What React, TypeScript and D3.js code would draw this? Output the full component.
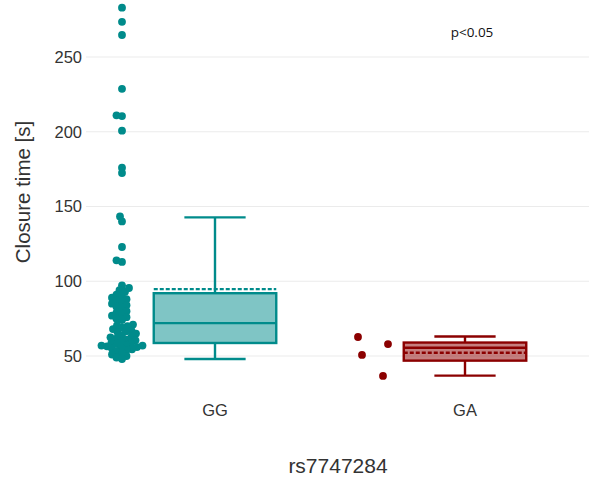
import React from 'react';
import * as d3 from 'd3';

const groups = ["GG", "GA"];
const groupColors = ["#008B8B", "#8B0000"];

// Raw observations, GG genotype
const ggValues = [
  283, 273.5, 264.7, 228.7, 211, 210.5, 200.7, 176, 172.4,
  143.3, 140, 122.9, 114, 112.9,
  97.3, 95.5, 94, 93,
  91, 90, 89, 88, 87, 86, 85, 84, 83, 82, 80, 79, 78, 77, 76, 75, 74,
  71, 70.5, 70, 69, 68, 67, 66.5, 66, 65, 64, 63, 62.5, 62, 61, 60.5, 60, 59,
  58.5, 58, 57.5, 57, 57, 56.5, 56, 55.5, 55, 54.5, 54, 53, 52, 51, 50, 49, 48,
];
// Raw observations, GA genotype
const gaValues = [62.7, 50.7, 58, 36.7];
const gaJitter = [-0.056, -0.04, 0.064, 0.044];

// Box summary per group (GG, GA)
const whiskerLow = [48, 36.9];
const q1 = [58.7, 46.9];
const median = [72, 55.5];
const q3 = [92, 59];
const whiskerHigh = [142.7, 63];
const means = [94.7, 52.2];

const yTicks = [50, 100, 150, 200, 250];
const pLabel = "p<0.05";
const xTitle = "rs7747284";
const yTitle = "Closure time [s]";

export default function App() {
  const W = 589, H = 483;
  const x = d3.scalePoint<string>().domain(groups).range([90, 590]).padding(0.5);
  const step = x.step();
  const y = d3.scaleLinear().domain([50, 250]).range([356, 57]);
  const boxW = step * 0.49;
  const capW = boxW / 2;
  const dotShift = -step * 0.372;
  const r = 3.9;
  const font = "'Liberation Sans', Arial, sans-serif";

  function swarm(values: number[], cx: number, minDist: number) {
    const pts = values.map((v) => ({ v, py: y(v), px: cx }));
    const sorted = [...pts].sort((a, b) => b.py - a.py);
    const placed: { px: number; py: number }[] = [];
    for (const p of sorted) {
      for (let k = 0; k < 400; k++) {
        const off = (k % 2 === 0 ? 1 : -1) * Math.ceil(k / 2) * 0.5;
        const px = cx + off;
        if (placed.every((q) => (q.px - px) ** 2 + (q.py - p.py) ** 2 >= minDist * minDist)) {
          p.px = px;
          placed.push(p);
          break;
        }
      }
    }
    return pts;
  }

  const ggCx = (x("GG") as number) + dotShift;
  const ggPts = swarm(ggValues, ggCx, r * 1.35);
  const gaCx = (x("GA") as number) + dotShift;
  const gaPts = gaValues.map((v, i) => ({ v, py: y(v), px: gaCx + gaJitter[i] * step }));

  return (
    <svg width={W} height={H} style={{ position: 'absolute', left: 0, top: 0, background: '#fff' }}>
      {yTicks.map((t) => (
        <g key={t}>
          <line x1={86} x2={589} y1={y(t)} y2={y(t)} stroke="#ebebeb" strokeWidth={1.1} />
          <text x={82} y={y(t)} dy="0.35em" textAnchor="end" fontFamily={font} fontSize={16.5} fill="#333">{t}</text>
        </g>
      ))}
      {groups.map((g, i) => {
        const cx = x(g) as number;
        const c = groupColors[i];
        return (
          <g key={g}>
            <line x1={cx} x2={cx} y1={y(whiskerHigh[i])} y2={y(q3[i])} stroke={c} strokeWidth={2.4} />
            <line x1={cx} x2={cx} y1={y(q1[i])} y2={y(whiskerLow[i])} stroke={c} strokeWidth={2.4} />
            <line x1={cx - capW / 2} x2={cx + capW / 2} y1={y(whiskerHigh[i])} y2={y(whiskerHigh[i])} stroke={c} strokeWidth={2.4} />
            <line x1={cx - capW / 2} x2={cx + capW / 2} y1={y(whiskerLow[i])} y2={y(whiskerLow[i])} stroke={c} strokeWidth={2.4} />
            <rect x={cx - boxW / 2} y={y(q3[i])} width={boxW} height={y(q1[i]) - y(q3[i])}
              fill={c} fillOpacity={0.5} stroke={c} strokeWidth={2.4} />
            <line x1={cx - boxW / 2} x2={cx + boxW / 2} y1={y(median[i])} y2={y(median[i])} stroke={c} strokeWidth={2.4} />
            <line x1={cx - boxW / 2} x2={cx + boxW / 2} y1={y(means[i])} y2={y(means[i])} stroke={c} strokeWidth={2.4} strokeDasharray="4,2" />
            <text x={cx} y={410} dy="0.35em" textAnchor="middle" fontFamily={font} fontSize={16.5} fill="#333">{g}</text>
          </g>
        );
      })}
      {ggPts.map((p, i) => (
        <circle key={'gg' + i} cx={p.px} cy={p.py} r={r} fill={groupColors[0]} />
      ))}
      {gaPts.map((p, i) => (
        <circle key={'ga' + i} cx={p.px} cy={p.py} r={r} fill={groupColors[1]} />
      ))}
      <text x={472} y={32} dy="0.35em" textAnchor="middle" fontFamily="'Open Sans', sans-serif" fontSize={13.5} fill="#111">{pLabel}</text>
      <text x={338} y={466} dy="0.35em" textAnchor="middle" fontFamily={font} fontSize={21} fill="#333">{xTitle}</text>
      <text transform={`translate(23,192) rotate(-90)`} dy="0.35em" textAnchor="middle" fontFamily={font} fontSize={20.5} fill="#333">{yTitle}</text>
    </svg>
  );
}
